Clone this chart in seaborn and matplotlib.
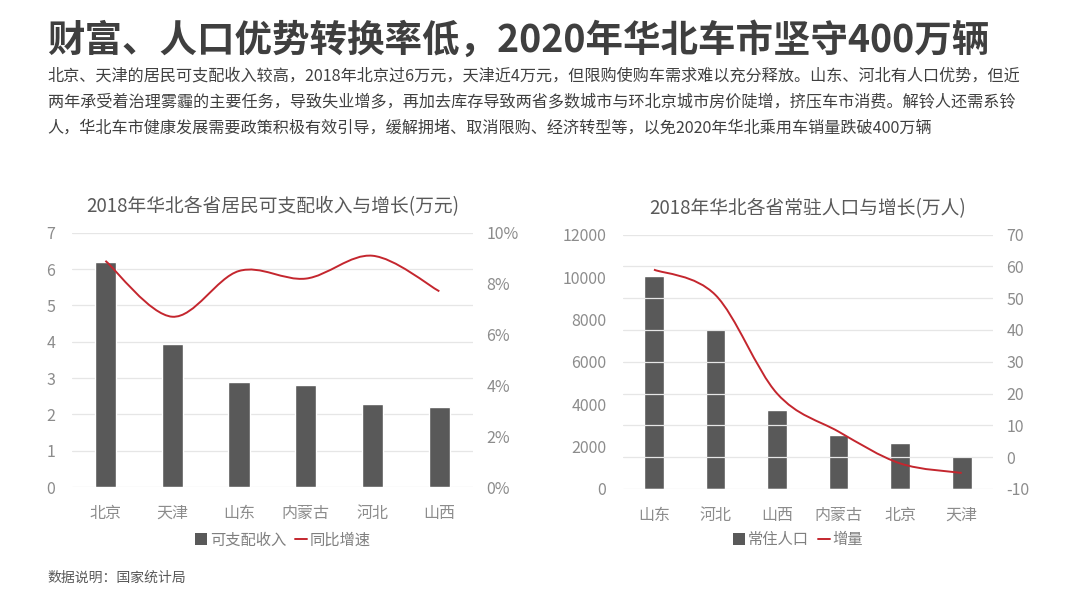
import matplotlib
matplotlib.use("Agg")
import matplotlib.pyplot as plt
import seaborn as sns
import pandas as pd
import numpy as np
from matplotlib.path import Path
from matplotlib.patches import PathPatch, Patch
from matplotlib.lines import Line2D
from matplotlib.ticker import FuncFormatter

# ---- data ----
income_provinces = ["北京", "天津", "山东", "内蒙古", "河北", "山西"]
income_values = [6.2, 3.95, 2.9, 2.8, 2.3, 2.2]          # 万元
income_growth = [0.089, 0.067, 0.085, 0.082, 0.091, 0.077]  # 同比增速

pop_provinces = ["山东", "河北", "山西", "内蒙古", "北京", "天津"]
pop_values = [10047, 7556, 3718, 2534, 2154, 1560]         # 万人
pop_growth = [59, 51, 20, 8, -2, -5]                       # 增量

title = "财富、人口优势转换率低，2020年华北车市坚守400万辆"
subtitle_lines = [
    "北京、天津的居民可支配收入较高，2018年北京过6万元，天津近4万元，但限购使购车需求难以充分释放。山东、河北有人口优势，但近",
    "两年承受着治理雾霾的主要任务，导致失业增多，再加去库存导致两省多数城市与环北京城市房价陡增，挤压车市消费。解铃人还需系铃",
    "人，华北车市健康发展需要政策积极有效引导，缓解拥堵、取消限购、经济转型等，以免2020年华北乘用车销量跌破400万辆",
]
source = "数据说明：国家统计局"

# ---- style ----
sns.set_theme(style="white")
plt.rcParams["font.family"] = ["Noto Sans CJK SC", "DejaVu Sans"]
plt.rcParams["axes.unicode_minus"] = False

BAR = "#595959"
RED = "#c4262e"
TICK = "#8c8c8c"
GRID = "#e6e6e6"

fig = plt.figure(figsize=(10.8, 6.08), dpi=100)
fig.patch.set_facecolor("white")


def smooth_path(xs, ys):
    pts = np.column_stack([xs, ys]).astype(float)
    n = len(pts)
    verts = [pts[0]]
    codes = [Path.MOVETO]
    for i in range(n - 1):
        p0 = pts[i - 1] if i > 0 else pts[i]
        p1 = pts[i]
        p2 = pts[i + 1]
        p3 = pts[i + 2] if i + 2 < n else pts[i + 1]
        c1 = p1 + (p2 - p0) / 6.0
        c2 = p2 - (p3 - p1) / 6.0
        verts += [c1, c2, p2]
        codes += [Path.CURVE4] * 3
    return Path(verts, codes)


def style_axes(ax):
    for s in ax.spines.values():
        s.set_visible(False)
    ax.tick_params(axis="both", length=0, colors=TICK, labelsize=11.5)


def make_chart(rect, cats, vals, growth, ylim, yticks, y2lim, y2ticks, y2fmt,
               grid_on_secondary, ctitle, leg_labels, leg_x):
    ax = fig.add_axes(rect)
    df = pd.DataFrame({"cat": cats, "val": vals})
    sns.barplot(data=df, x="cat", y="val", color=BAR, saturation=1,
                width=0.32, ax=ax, zorder=3)
    ax.set_xlim(-0.5, len(cats) - 0.5)
    ax.set_ylim(*ylim)
    ax.set_yticks(yticks)
    ax.set_xlabel("")
    ax.set_ylabel("")
    style_axes(ax)
    ax.tick_params(axis="x", labelsize=11.5, pad=13)
    ax.tick_params(axis="y", pad=12)

    ax2 = ax.twinx()
    ax2.set_ylim(*y2lim)
    ax2.set_yticks(y2ticks)
    ax2.yaxis.set_major_formatter(FuncFormatter(y2fmt))
    style_axes(ax2)
    ax2.tick_params(axis="y", pad=10)
    patch = PathPatch(smooth_path(np.arange(len(cats)), growth), facecolor="none",
                      edgecolor=RED, linewidth=1.4, transform=ax2.transData, zorder=4)
    ax2.add_patch(patch)

    gax = ax2 if grid_on_secondary else ax
    for t in gax.get_yticks():
        gax.axhline(t, color=GRID, linewidth=0.9, zorder=0)
    ax.set_zorder(1)
    ax2.set_zorder(2)
    ax2.patch.set_visible(False)

    ax.set_title(ctitle, fontsize=13.5, color="#595959", pad=15)

    handles = [Patch(facecolor=BAR, edgecolor="none"),
               Line2D([0], [0], color=RED, linewidth=1.4)]
    fig.legend(handles, leg_labels, loc="center", bbox_to_anchor=(leg_x, 0.112),
               ncol=2, frameon=False, fontsize=11, labelcolor="#7f7f7f",
               handlelength=0.8, handleheight=0.8, handletextpad=0.15,
               columnspacing=0.6)
    return ax, ax2


make_chart([0.0667, 0.199, 0.371, 0.418], income_provinces, income_values, income_growth,
           (0, 7), range(0, 8), (0, 0.10), np.arange(0, 0.101, 0.02),
           lambda v, p: f"{v*100:.0f}%", False,
           "2018年华北各省居民可支配收入与增长(万元)", ["可支配收入", "同比增速"], 0.262)

make_chart([0.577, 0.196, 0.342, 0.418], pop_provinces, pop_values, pop_growth,
           (0, 12000), range(0, 12001, 2000), (-10, 70), range(-10, 71, 10),
           lambda v, p: f"{v:.0f}", True,
           "2018年华北各省常驻人口与增长(万人)", ["常住人口", "增量"], 0.739)

fig.text(0.044, 1 - 40 / 608, title, fontsize=27, fontweight="bold", color="#3f3f3f",
         va="center", ha="left")
for i, line in enumerate(subtitle_lines):
    fig.text(0.044, 1 - (76 + i * 26) / 608, line, fontsize=11.6, color="#404040",
             va="center", ha="left")
fig.text(0.044, 1 - 578 / 608, source, fontsize=10, color="#595959",
         va="center", ha="left")

fig.savefig("out.png", dpi=100, facecolor="white")
